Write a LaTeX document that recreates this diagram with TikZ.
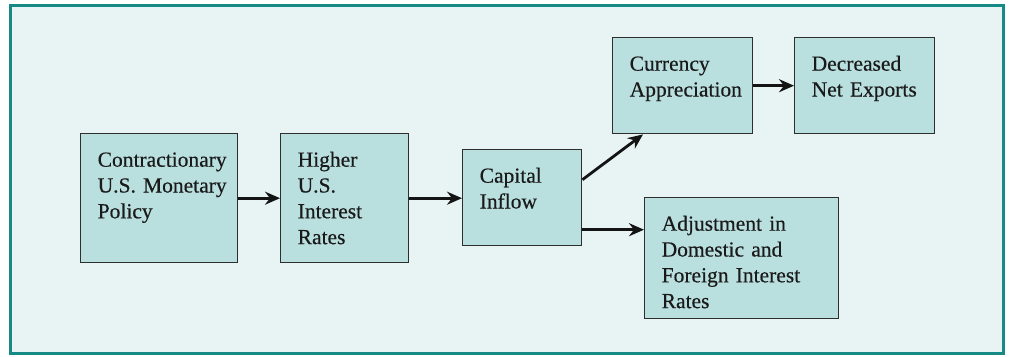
\documentclass[tikz,border=0pt]{standalone}
\usepackage{fontspec}
\setmainfont{Liberation Serif}[BoldFont={Liberation Serif},BoldFeatures={FakeBold=0.35}]
\usetikzlibrary{arrows.meta,calc}
\definecolor{framecol}{HTML}{178A85}
\definecolor{bgcol}{HTML}{E8F4F4}
\definecolor{boxfill}{HTML}{B9DFDF}
\definecolor{boxline}{HTML}{2E2E2E}
\definecolor{txtcol}{HTML}{1A1A1A}
\tikzset{
  flowbox/.style={draw=boxline, line width=1.4pt, fill=boxfill, anchor=north west,
    inner sep=0pt, align=left, text=txtcol,
    font=\fontsize{21.5}{25.8}\selectfont\bfseries,
    text height=33pt,
    execute at begin node={\leftskip=17pt\relax}},
  arr/.style={draw=black!92, line width=2.8pt, -{Stealth[length=15pt,width=13pt,inset=5pt]}}
}
\begin{document}
\begin{tikzpicture}[x=1pt,y=-1pt]
\useasboundingbox (0,0) rectangle (1009,356);
\fill[white] (0,0) rectangle (1009,356);
\draw[framecol, line width=3pt, fill=bgcol] (10,5) rectangle (1003,353);
\node[flowbox, text width=157pt, text depth=96pt] (b1) at (80,133)
  {Contractionary\\U.S. Monetary\\Policy};
\node[flowbox, text width=128pt, text depth=96pt] (b2) at (280,133)
  {Higher\\U.S.\\Interest\\Rates};
\node[flowbox, text width=119pt, text depth=63pt] (b3) at (462,149)
  {Capital\\Inflow};
\node[flowbox, text width=140pt, text depth=63pt] (b4) at (612,37)
  {Currency\\Appreciation};
\node[flowbox, text width=140pt, text depth=63pt] (b5) at (794,37)
  {Decreased\\Net Exports};
\node[flowbox, text width=194pt, text depth=88pt] (b6) at (644,197)
  {Adjustment in\\Domestic and\\Foreign Interest\\Rates};
\draw[arr] (b1.east) -- (b2.west);
\draw[arr] (b2.east) -- (b2.east -| b3.west);
\draw[arr] ([yshift=18pt]b3.east) -- ([xshift=31pt]b4.south west);
\draw[arr] (b4.east) -- (b5.west);
\draw[arr] ([yshift=-32pt]b3.east) coordinate (s) -- (s -| b6.west);
\end{tikzpicture}
\end{document}
